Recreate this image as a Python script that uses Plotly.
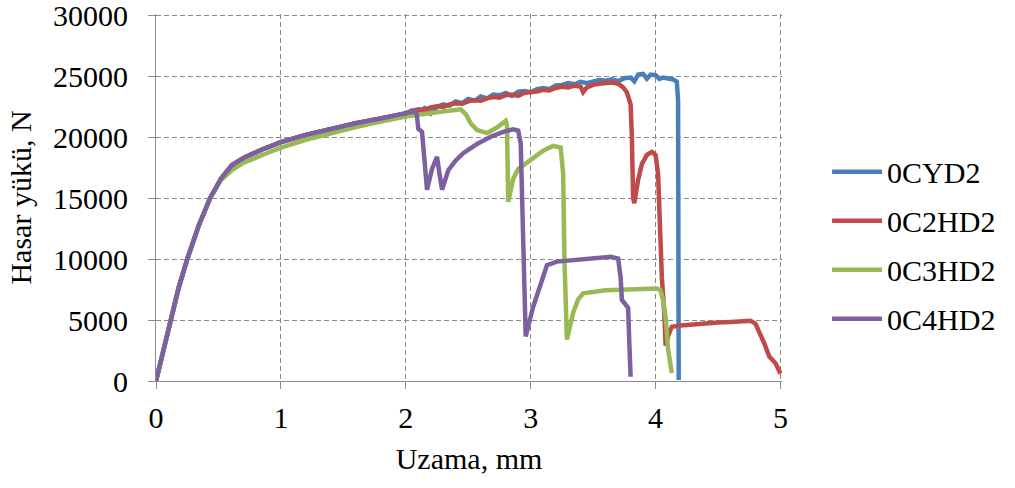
import plotly.graph_objects as go

# Shared elastic/plastic loading branch (Uzama in mm, load in N)
load_x = [0, 0.05, 0.112, 0.18, 0.25, 0.34, 0.433, 0.52, 0.607, 0.7, 0.85, 1.0,
          1.2, 1.4, 1.6, 1.8, 2.0]
load_y = [0, 2200, 5000, 7600, 10000, 12700, 15000, 16600, 17700, 18300, 19000,
          19600, 20200, 20700, 21150, 21550, 21950]

# 0CYD2 after the common branch
cyd_x = [2.05, 2.1, 2.15, 2.2, 2.25, 2.3, 2.35, 2.4, 2.45, 2.5, 2.55, 2.6, 2.65,
         2.7, 2.75, 2.8, 2.85, 2.9, 2.95, 3.0, 3.05, 3.1, 3.15, 3.2, 3.25, 3.3,
         3.35, 3.4, 3.45, 3.5, 3.55, 3.6, 3.65, 3.7, 3.75, 3.8, 3.83, 3.86, 3.9,
         3.93, 3.96, 4.0, 4.03, 4.06, 4.1, 4.14, 4.17, 4.18, 4.185]
cyd_y = [22200, 22050, 22400, 21950, 22500, 22700, 22600, 22950, 22800, 23150,
         23000, 23350, 23200, 23500, 23450, 23650, 23400, 23750, 23800, 23700,
         23950, 24050, 23950, 24250, 24300, 24450, 24350, 24550, 24450, 24600,
         24700, 24650, 24750, 24600, 24850, 24900, 24600, 25150, 25200, 24800,
         25150, 25100, 24800, 24900, 24800, 24750, 24550, 23000, 80]

# 0C2HD2 after the common branch
c2_x = [2.05, 2.1, 2.15, 2.2, 2.25, 2.3, 2.35, 2.4, 2.45, 2.5, 2.55, 2.6, 2.65,
        2.7, 2.75, 2.8, 2.85, 2.9, 2.95, 3.0, 3.05, 3.1, 3.15, 3.2, 3.25, 3.3,
        3.35, 3.4, 3.42, 3.45, 3.5, 3.55, 3.6, 3.65, 3.7, 3.74, 3.77, 3.8, 3.81,
        3.82, 3.83, 3.86, 3.89, 3.93, 3.97, 4.0, 4.02, 4.03, 4.04, 4.05, 4.07,
        4.08, 4.1, 4.13, 4.2, 4.3, 4.4, 4.5, 4.6, 4.7, 4.76, 4.8, 4.84, 4.87,
        4.91, 4.96, 5.0]
c2_y = [22150, 22300, 22250, 22450, 22550, 22500, 22700, 22800, 22750, 22950,
        23050, 23000, 23200, 23300, 23250, 23450, 23500, 23400, 23650, 23700,
        23750, 23900, 23850, 24050, 24150, 24100, 24250, 24150, 23700, 24100,
        24300, 24400, 24450, 24500, 24400, 24100, 23700, 22700, 20000, 15000,
        14600, 16500, 17800, 18550, 18800, 18550, 17000, 14000, 10000, 8500,
        5500, 2900, 3700, 4450, 4550, 4650, 4750, 4800, 4850, 4950, 4950, 4700,
        3900, 3100, 2000, 1450, 600]

# 0C3HD2 (own loading branch, slightly lower after yield)
c3_x = [0, 0.05, 0.112, 0.18, 0.25, 0.34, 0.433, 0.52, 0.607, 0.7, 0.85, 1.0,
        1.2, 1.4, 1.6, 1.8, 2.0, 2.2, 2.35, 2.44, 2.48, 2.52, 2.57, 2.65, 2.73,
        2.8, 2.81, 2.82, 2.86, 2.9, 3.0, 3.1, 3.18, 3.24, 3.26, 3.27, 3.29, 3.34,
        3.38, 3.42, 3.6, 3.8, 4.01, 4.04, 4.06, 4.08, 4.1, 4.13]
c3_y = [0, 2200, 5000, 7600, 10000, 12700, 15000, 16500, 17300, 17900, 18550,
        19150, 19800, 20350, 20850, 21300, 21700, 22000, 22200, 22300, 21900,
        21150, 20600, 20350, 20800, 21350, 21000, 14700, 16600, 17400, 18150,
        18900, 19300, 19150, 17000, 10000, 3400, 5600, 6700, 7200, 7450, 7550,
        7600, 7450, 6600, 5300, 2600, 650]

# 0C4HD2 after the common branch
c4_x = [2.08, 2.09, 2.1, 2.13, 2.15, 2.17, 2.21, 2.25, 2.27, 2.29, 2.34, 2.4,
        2.46, 2.57, 2.68, 2.78, 2.86, 2.9, 2.92, 2.94, 2.96, 3.02, 3.08, 3.13,
        3.21, 3.4, 3.55, 3.64, 3.7, 3.72, 3.73, 3.76, 3.78, 3.79, 3.8]
c4_y = [22150, 21700, 20700, 20450, 18000, 15700, 17400, 18400, 17000, 15700,
        17300, 18100, 18700, 19450, 20050, 20450, 20650, 20550, 19500, 12000,
        3650, 6100, 8000, 9500, 9800, 10000, 10150, 10200, 10050, 8500, 6650,
        6250, 6000, 3000, 350]

x_ticks = [0, 1, 2, 3, 4, 5]
y_ticks = [0, 5000, 10000, 15000, 20000, 25000, 30000]

series = [
    ("0CYD2", load_x + cyd_x, load_y + cyd_y, "#4A7EBB"),
    ("0C2HD2", load_x + c2_x, load_y + c2_y, "#BE4B48"),
    ("0C3HD2", c3_x, c3_y, "#98B954"),
    ("0C4HD2", load_x + c4_x, load_y + c4_y, "#7D60A0"),
]

font_family = "Liberation Serif, Times New Roman, serif"

fig = go.Figure()
for i, (name, xs, ys, color) in enumerate(series):
    fig.add_trace(go.Scatter(
        x=xs, y=ys, name=name, mode="lines",
        line=dict(color=color, width=4.5, shape="linear"),
        legendgroup=f"g{i}",
    ))

grid_color = "#8a8a8a"
axis_color = "#8c8c8c"

fig.update_layout(
    width=1015, height=488,
    margin=dict(l=156, r=233, t=14, b=107, autoexpand=False),
    paper_bgcolor="white", plot_bgcolor="white",
    font=dict(family=font_family, size=30, color="black"),
    showlegend=True,
    legend=dict(
        x=1.072, y=0.37, xanchor="left", yanchor="middle",
        font=dict(family=font_family, size=30, color="black"),
        tracegroupgap=7, itemwidth=50, bgcolor="rgba(0,0,0,0)",
    ),
    xaxis=dict(
        range=[0, 5.012], tickvals=x_ticks, automargin=False,
        showgrid=True, gridcolor=grid_color, gridwidth=1, griddash="5px,3px",
        showline=True, linecolor=axis_color, linewidth=1,
        ticks="outside", ticklen=7, tickcolor=axis_color,
        zeroline=False, ticklabelstandoff=3, ticklabeloverflow="allow",
        title=dict(text="Uzama, mm", standoff=14,
                   font=dict(family=font_family, size=30)),
    ),
    yaxis=dict(
        range=[0, 30120], tickvals=y_ticks, tickformat="d", automargin=False,
        showgrid=True, gridcolor=grid_color, gridwidth=1, griddash="5px,3px",
        showline=True, linecolor=axis_color, linewidth=1,
        ticks="outside", ticklen=7, tickcolor=axis_color,
        zeroline=False, ticklabelstandoff=14, ticklabeloverflow="allow",
        title=dict(text="Hasar yükü, N", standoff=12,
                   font=dict(family=font_family, size=30)),
    ),
)

fig.write_html("out.html")
